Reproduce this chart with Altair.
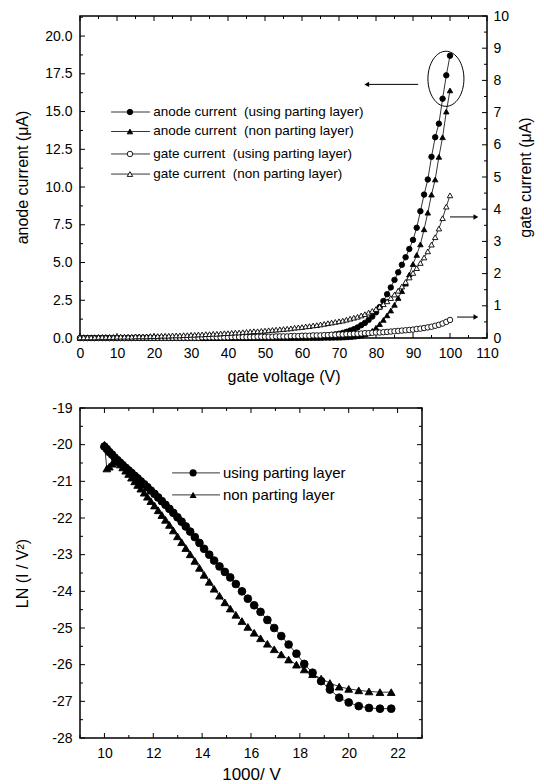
import altair as alt
import pandas as pd

# ---------------- top panel data (gate voltage sweep) ----------------
V = [0, 1, 2, 3, 4, 5, 6, 7, 8, 9,
     10, 11, 12, 13, 14, 15, 16, 17, 18, 19,
     20, 21, 22, 23, 24, 25, 26, 27, 28, 29,
     30, 31, 32, 33, 34, 35, 36, 37, 38, 39,
     40, 41, 42, 43, 44, 45, 46, 47, 48, 49,
     50, 51, 52, 53, 54, 55, 56, 57, 58, 59,
     60, 61, 62, 63, 64, 65, 66, 67, 68, 69,
     70, 71, 72, 73, 74, 75, 76, 77, 78, 79,
     80, 81, 82, 83, 84, 85, 86, 87, 88, 89,
     90, 91, 92, 93, 94, 95, 96, 97, 98, 99, 100]

anode_using = [0, 0, 0, 0, 0, 0, 0, 0, 0, 0,
               0, 0, 0, 0, 0, 0, 0, 0, 0, 0,
               0, 0, 0, 0, 0, 0, 0, 0, 0, 0,
               0, 0, 0, 0, 0, 0.01, 0.01, 0.01, 0.01, 0.01,
               0.01, 0.01, 0.01, 0.01, 0.01, 0.01, 0.02, 0.02, 0.02, 0.02,
               0.02, 0.02, 0.03, 0.03, 0.03, 0.04, 0.04, 0.04, 0.05, 0.05,
               0.06, 0.07, 0.08, 0.09, 0.1, 0.12, 0.14, 0.17, 0.2, 0.24,
               0.28, 0.34, 0.41, 0.49, 0.58, 0.7, 0.85, 1.0, 1.2, 1.42,
               1.7, 2.05, 2.45, 2.9, 3.35, 3.85, 4.35, 4.85, 5.35, 5.9,
               6.5, 7.3, 8.4, 9.5, 10.5, 12.0, 13.3, 14.2, 15.85, 17.4, 18.7]

anode_non = [0, 0, 0, 0, 0, 0, 0, 0, 0, 0,
             0, 0, 0, 0, 0, 0, 0, 0, 0, 0,
             0, 0, 0, 0, 0, 0, 0, 0, 0, 0,
             0, 0, 0, 0, 0, 0, 0, 0, 0, 0,
             0, 0, 0, 0, 0, 0, 0, 0, 0, 0,
             0, 0, 0, 0, 0, 0, 0, 0, 0, 0,
             0, 0, 0.01, 0.01, 0.01, 0.01, 0.02, 0.02, 0.02, 0.03,
             0.03, 0.04, 0.05, 0.07, 0.09, 0.12, 0.17, 0.24, 0.34, 0.48,
             0.68, 0.92, 1.2, 1.5, 1.82, 2.2, 2.65, 3.1, 3.6, 4.2,
             4.9, 5.5, 6.2, 7.2, 8.3, 9.5, 10.5, 12.0, 13.3, 15.0, 16.4]

gate_using = [0, 0, 0, 0, 0, 0, 0, 0, 0, 0,
              0, 0, 0, 0, 0, 0.01, 0.01, 0.01, 0.01, 0.01,
              0.01, 0.01, 0.01, 0.01, 0.01, 0.01, 0.01, 0.01, 0.01, 0.01,
              0.01, 0.01, 0.01, 0.02, 0.02, 0.02, 0.02, 0.02, 0.02, 0.02,
              0.02, 0.03, 0.03, 0.03, 0.03, 0.03, 0.03, 0.03, 0.04, 0.04,
              0.04, 0.04, 0.04, 0.05, 0.05, 0.05, 0.05, 0.06, 0.06, 0.06,
              0.07, 0.07, 0.07, 0.08, 0.08, 0.08, 0.09, 0.09, 0.1, 0.1,
              0.11, 0.11, 0.12, 0.12, 0.13, 0.13, 0.14, 0.15, 0.15, 0.16,
              0.17, 0.17, 0.18, 0.19, 0.2, 0.21, 0.22, 0.23, 0.24, 0.25,
              0.26, 0.28, 0.29, 0.31, 0.33, 0.35, 0.38, 0.41, 0.45, 0.5, 0.56]

gate_non = [0.02, 0.02, 0.02, 0.02, 0.02, 0.03, 0.03, 0.03, 0.03, 0.03,
            0.04, 0.04, 0.04, 0.04, 0.04, 0.05, 0.05, 0.05, 0.05, 0.06,
            0.06, 0.06, 0.07, 0.07, 0.07, 0.08, 0.08, 0.08, 0.09, 0.09,
            0.1, 0.1, 0.11, 0.11, 0.12, 0.12, 0.13, 0.13, 0.14, 0.15,
            0.15, 0.16, 0.17, 0.17, 0.18, 0.19, 0.2, 0.21, 0.21, 0.22,
            0.23, 0.24, 0.25, 0.26, 0.27, 0.28, 0.29, 0.3, 0.32, 0.33,
            0.34, 0.36, 0.37, 0.39, 0.4, 0.42, 0.44, 0.46, 0.48, 0.5,
            0.52, 0.54, 0.57, 0.6, 0.63, 0.66, 0.7, 0.74, 0.79, 0.84,
            0.9, 0.97, 1.05, 1.14, 1.24, 1.35, 1.47, 1.6, 1.74, 1.88,
            2.02, 2.17, 2.33, 2.5, 2.69, 2.9, 3.13, 3.4, 3.72, 4.08, 4.43]

# ---------------- bottom panel data (Fowler-Nordheim plot) ----------------
inv_V = [10.00, 10.10, 10.20, 10.31, 10.42, 10.53, 10.64, 10.75, 10.87, 10.99,
         11.11, 11.24, 11.36, 11.49, 11.63, 11.76, 11.90, 12.05, 12.20, 12.35,
         12.50, 12.66, 12.82, 12.99, 13.16, 13.33, 13.51, 13.70, 13.89, 14.08,
         14.29, 14.49, 14.71, 14.93, 15.15, 15.38, 15.63, 15.87, 16.13, 16.39,
         16.67, 16.95, 17.24, 17.54, 17.86, 18.18, 18.52, 18.87, 19.23, 19.61,
         20.00, 20.41, 20.83, 21.28, 21.74]

ln_using = [-20.05, -20.12, -20.2, -20.27, -20.35, -20.42, -20.49, -20.56, -20.63, -20.7,
            -20.77, -20.85, -20.92, -21.0, -21.08, -21.16, -21.25, -21.34, -21.44, -21.54,
            -21.64, -21.75, -21.86, -21.98, -22.1, -22.23, -22.37, -22.52, -22.68, -22.84,
            -23.0, -23.16, -23.32, -23.47, -23.62, -23.8, -24.0, -24.2, -24.38, -24.56,
            -24.78, -25.0, -25.22, -25.45, -25.7, -25.98, -26.22, -26.45, -26.68, -26.9,
            -27.03, -27.13, -27.18, -27.2, -27.2]

ln_non = [-20.0, -20.65, -20.6, -20.52, -20.46, -20.47, -20.54, -20.62, -20.71, -20.8,
          -20.9, -21.0, -21.1, -21.2, -21.31, -21.42, -21.54, -21.66, -21.79, -21.92,
          -22.05, -22.19, -22.34, -22.5, -22.66, -22.82, -22.99, -23.17, -23.36, -23.55,
          -23.74, -23.93, -24.12, -24.3, -24.47, -24.64, -24.81, -24.97, -25.13, -25.28,
          -25.43, -25.58, -25.72, -25.86, -26.0, -26.13, -26.26, -26.38, -26.5, -26.6,
          -26.66, -26.7, -26.73, -26.75, -26.75]

# ---------------- tick values / labels ----------------
top_x_major = [0, 10, 20, 30, 40, 50, 60, 70, 80, 90, 100, 110]
top_x_minor = [5, 15, 25, 35, 45, 55, 65, 75, 85, 95, 105]
left_major = [0, 2.5, 5, 7.5, 10, 12.5, 15, 17.5, 20]
left_minor = [1.25, 3.75, 6.25, 8.75, 11.25, 13.75, 16.25, 18.75, 21.25]
right_major = [0, 1, 2, 3, 4, 5, 6, 7, 8, 9, 10]
right_minor = [0.5, 1.5, 2.5, 3.5, 4.5, 5.5, 6.5, 7.5, 8.5, 9.5]
bot_x_major = [10, 12, 14, 16, 18, 20, 22]
bot_x_minor = [9, 11, 13, 15, 17, 19, 21, 23]
bot_y_major = [-28, -27, -26, -25, -24, -23, -22, -21, -20, -19]
bot_y_minor = [-27.5, -26.5, -25.5, -24.5, -23.5, -22.5, -21.5, -20.5, -19.5]

# ---------------- legends & annotations ----------------
top_legend_labels = ["anode current \u00a0(using parting layer)",
                     "anode current \u00a0(non parting layer)",
                     "gate current \u00a0(using parting layer)",
                     "gate current \u00a0(non parting layer)"]
top_legend_shapes = ["circle", "triangle-up", "circle", "triangle-up"]
top_legend_fills = ["black", "black", "white", "white"]
top_legend_y = [14.97, 13.68, 12.19, 10.86]          # anode units

bot_legend_labels = ["using parting layer", "non parting layer"]
bot_legend_shapes = ["circle", "triangle-up"]
bot_legend_y = [-20.77, -21.37]

FONT = "Liberation Sans"
W1, H1 = 407, 322
W2, H2 = 342, 330

xs1 = alt.Scale(domain=[0, 110], nice=False, zero=False)
yl1 = alt.Scale(domain=[0, 21.33], nice=False, zero=False)
yr1 = alt.Scale(domain=[0, 10], nice=False, zero=False)
xs2 = alt.Scale(domain=[9, 23], nice=False, zero=False)
ys2 = alt.Scale(domain=[-28, -19], nice=False, zero=False)

top_df = pd.DataFrame({"V": V, "au": anode_using, "an": anode_non,
                       "gu": gate_using, "gn": gate_non})
bot_df = pd.DataFrame({"x": inv_V, "lu": ln_using, "ln": ln_non})


def X(field, sc, axis=None):
    return alt.X(field, scale=sc, axis=axis) if axis is not None else alt.X(field, scale=sc)


def Y(field, sc, axis=None):
    return alt.Y(field, scale=sc, axis=axis) if axis is not None else alt.Y(field, scale=sc)


def series(df, x, y, xsc, ysc, shape, fill, size, xaxis=None, yaxis=None):
    base = alt.Chart(df)
    line = base.mark_line(color="black", strokeWidth=0.8).encode(
        x=X(f"{x}:Q", xsc, xaxis), y=Y(f"{y}:Q", ysc, yaxis))
    pts = base.mark_point(shape=shape, filled=True, fill=fill, stroke="black",
                          strokeWidth=0.9, size=size, opacity=1).encode(
        x=X(f"{x}:Q", xsc, xaxis), y=Y(f"{y}:Q", ysc, yaxis))
    return [line, pts]


def xticks(vals, xsc, H, length, axis):
    d = pd.DataFrame({"t": vals})
    b = alt.Chart(d).mark_rule(color="black", strokeWidth=1)
    return [b.encode(x=X("t:Q", xsc, axis), y=alt.value(H), y2=alt.value(H - length)),
            b.encode(x=X("t:Q", xsc, axis), y=alt.value(0), y2=alt.value(length))]


def yticks(vals, ysc, W, length, sides, axis):
    d = pd.DataFrame({"t": vals})
    b = alt.Chart(d).mark_rule(color="black", strokeWidth=1)
    out = []
    if "left" in sides:
        out.append(b.encode(y=Y("t:Q", ysc, axis), x=alt.value(0), x2=alt.value(length)))
    if "right" in sides:
        out.append(b.encode(y=Y("t:Q", ysc, axis), x=alt.value(W), x2=alt.value(W - length)))
    return out


# ---------------- top panel ----------------
x_axis_top = alt.Axis(title="gate voltage (V)", values=top_x_major, format="d",
                      labelPadding=8, titlePadding=8, labelFlush=False, labelOverlap=False)
y_axis_left = alt.Axis(title="anode current (\u03bcA)", values=left_major, format=".1f",
                       labelPadding=8, minExtent=36, titlePadding=14, labelOverlap=False)
y_axis_right = alt.Axis(title="gate current (\u03bcA)", orient="right", values=right_major,
                        format="d", labelPadding=6, titlePadding=25, titleAngle=270,
                        labelOverlap=False)

leg_top = pd.DataFrame({"label": top_legend_labels, "shape": top_legend_shapes,
                        "fill": top_legend_fills, "y": top_legend_y,
                        "x1": [8.4] * 4, "x2": [18.9] * 4, "xm": [13.5] * 4, "xt": [19.8] * 4})
legend_top = [
    alt.Chart(leg_top).mark_rule(color="black", strokeWidth=0.8).encode(
        x=X("x1:Q", xs1, x_axis_top), x2="x2:Q", y=Y("y:Q", yl1, y_axis_left)),
    alt.Chart(leg_top).mark_point(filled=True, stroke="black", strokeWidth=0.9, size=30, opacity=1).encode(
        x=X("xm:Q", xs1, x_axis_top), y=Y("y:Q", yl1, y_axis_left),
        shape=alt.Shape("shape:N", scale=None), fill=alt.Fill("fill:N", scale=None)),
    alt.Chart(leg_top).mark_text(align="left", baseline="middle", font=FONT, fontSize=13.5,
                                 color="black").encode(
        x=X("xt:Q", xs1, x_axis_top), y=Y("y:Q", yl1, y_axis_left), text="label:N"),
]

ell = pd.DataFrame({"x": [98.9], "y": [17.17]})
ellipse = alt.Chart(ell).mark_point(
    shape="M0,-1.53A1,1.53,0,1,1,0,1.53A1,1.53,0,1,1,0,-1.53Z",
    filled=False, color="black", strokeWidth=1, size=1296, opacity=1).encode(
    x=X("x:Q", xs1, x_axis_top), y=Y("y:Q", yl1, y_axis_left))

arr_l = pd.DataFrame({"x1": [91.4], "x2": [77.5], "y": [16.8]})
arrow_left = [
    alt.Chart(arr_l).mark_rule(color="black", strokeWidth=1).encode(
        x=X("x1:Q", xs1, x_axis_top), x2="x2:Q", y=Y("y:Q", yl1, y_axis_left)),
    alt.Chart(arr_l).mark_point(shape="triangle-left", filled=True, color="black", size=30, opacity=1).encode(
        x=X("x2:Q", xs1, x_axis_top), y=Y("y:Q", yl1, y_axis_left)),
]

arr_r = pd.DataFrame({"x1": [100.0, 101.9], "x2": [107.0, 107.0], "y": [3.76, 0.65]})
arrows_right = [
    alt.Chart(arr_r).mark_rule(color="black", strokeWidth=1).encode(
        x=X("x1:Q", xs1, x_axis_top), x2="x2:Q", y=Y("y:Q", yr1, y_axis_right)),
    alt.Chart(arr_r).mark_point(shape="triangle-right", filled=True, color="black", size=30, opacity=1).encode(
        x=X("x2:Q", xs1, x_axis_top), y=Y("y:Q", yr1, y_axis_right)),
]

left_group = alt.layer(
    *series(top_df, "V", "au", xs1, yl1, "circle", "black", 30, xaxis=x_axis_top, yaxis=y_axis_left),
    *series(top_df, "V", "an", xs1, yl1, "triangle-up", "black", 30, xaxis=x_axis_top, yaxis=y_axis_left),
    *xticks(top_x_major, xs1, H1, 5, x_axis_top),
    *xticks(top_x_minor, xs1, H1, 3, x_axis_top),
    *yticks(left_major, yl1, W1, 5, ["left"], y_axis_left),
    *yticks(left_minor, yl1, W1, 3, ["left"], y_axis_left),
    *legend_top,
    ellipse,
    *arrow_left,
)

right_group = alt.layer(
    *series(top_df, "V", "gu", xs1, yr1, "circle", "white", 30, xaxis=x_axis_top, yaxis=y_axis_right),
    *series(top_df, "V", "gn", xs1, yr1, "triangle-up", "white", 30, xaxis=x_axis_top, yaxis=y_axis_right),
    *yticks(right_major, yr1, W1, 5, ["right"], y_axis_right),
    *yticks(right_minor, yr1, W1, 3, ["right"], y_axis_right),
    *arrows_right,
)

top = alt.layer(left_group, right_group).resolve_scale(y="independent").properties(width=W1, height=H1)

# ---------------- bottom panel ----------------
x_axis_bot = alt.Axis(title="1000/ V", values=bot_x_major, format="d",
                      labelPadding=8, titlePadding=6, labelFlush=False, titleFontSize=17,
                      labelOverlap=False)
y_axis_bot = alt.Axis(title="LN (I / V\u00b2)", values=bot_y_major, labelExpr="'' + datum.value",
                      labelPadding=8, minExtent=36, titlePadding=14, labelOverlap=False)

leg_bot = pd.DataFrame({"label": bot_legend_labels, "shape": bot_legend_shapes,
                        "y": bot_legend_y, "x1": [12.77] * 2, "x2": [14.73] * 2,
                        "xm": [13.63] * 2, "xt": [14.85] * 2})
legend_bot = [
    alt.Chart(leg_bot).mark_rule(color="black", strokeWidth=0.8).encode(
        x=X("x1:Q", xs2, x_axis_bot), x2="x2:Q", y=Y("y:Q", ys2, y_axis_bot)),
    alt.Chart(leg_bot).mark_point(filled=True, color="black", size=50, opacity=1).encode(
        x=X("xm:Q", xs2, x_axis_bot), y=Y("y:Q", ys2, y_axis_bot),
        shape=alt.Shape("shape:N", scale=None)),
    alt.Chart(leg_bot).mark_text(align="left", baseline="middle", font=FONT, fontSize=15,
                                 color="black").encode(
        x=X("xt:Q", xs2, x_axis_bot), y=Y("y:Q", ys2, y_axis_bot), text="label:N"),
]

bottom = alt.layer(
    *series(bot_df, "x", "lu", xs2, ys2, "circle", "black", 60, xaxis=x_axis_bot, yaxis=y_axis_bot),
    *series(bot_df, "x", "ln", xs2, ys2, "triangle-up", "black", 60, xaxis=x_axis_bot, yaxis=y_axis_bot),
    *xticks(bot_x_major, xs2, H2, 5, x_axis_bot),
    *xticks(bot_x_minor, xs2, H2, 3, x_axis_bot),
    *yticks(bot_y_major, ys2, W2, 5, ["left", "right"], y_axis_bot),
    *yticks(bot_y_minor, ys2, W2, 3, ["left", "right"], y_axis_bot),
    *legend_bot,
).properties(width=W2, height=H2)

chart = alt.vconcat(top, bottom, spacing=15).properties(
    padding={"left": 5, "top": 0, "right": 0, "bottom": 0},
    background="white",
).configure_view(
    stroke="black", strokeWidth=1.5
).configure_axis(
    labelFont=FONT, labelFontSize=14, labelColor="black", labelOverlap=False,
    titleFont=FONT, titleFontSize=16, titleColor="black", titleFontWeight="normal",
    ticks=False, domain=False, grid=False
)

chart.save("out.html", embed_options={"renderer": "svg", "actions": False})
